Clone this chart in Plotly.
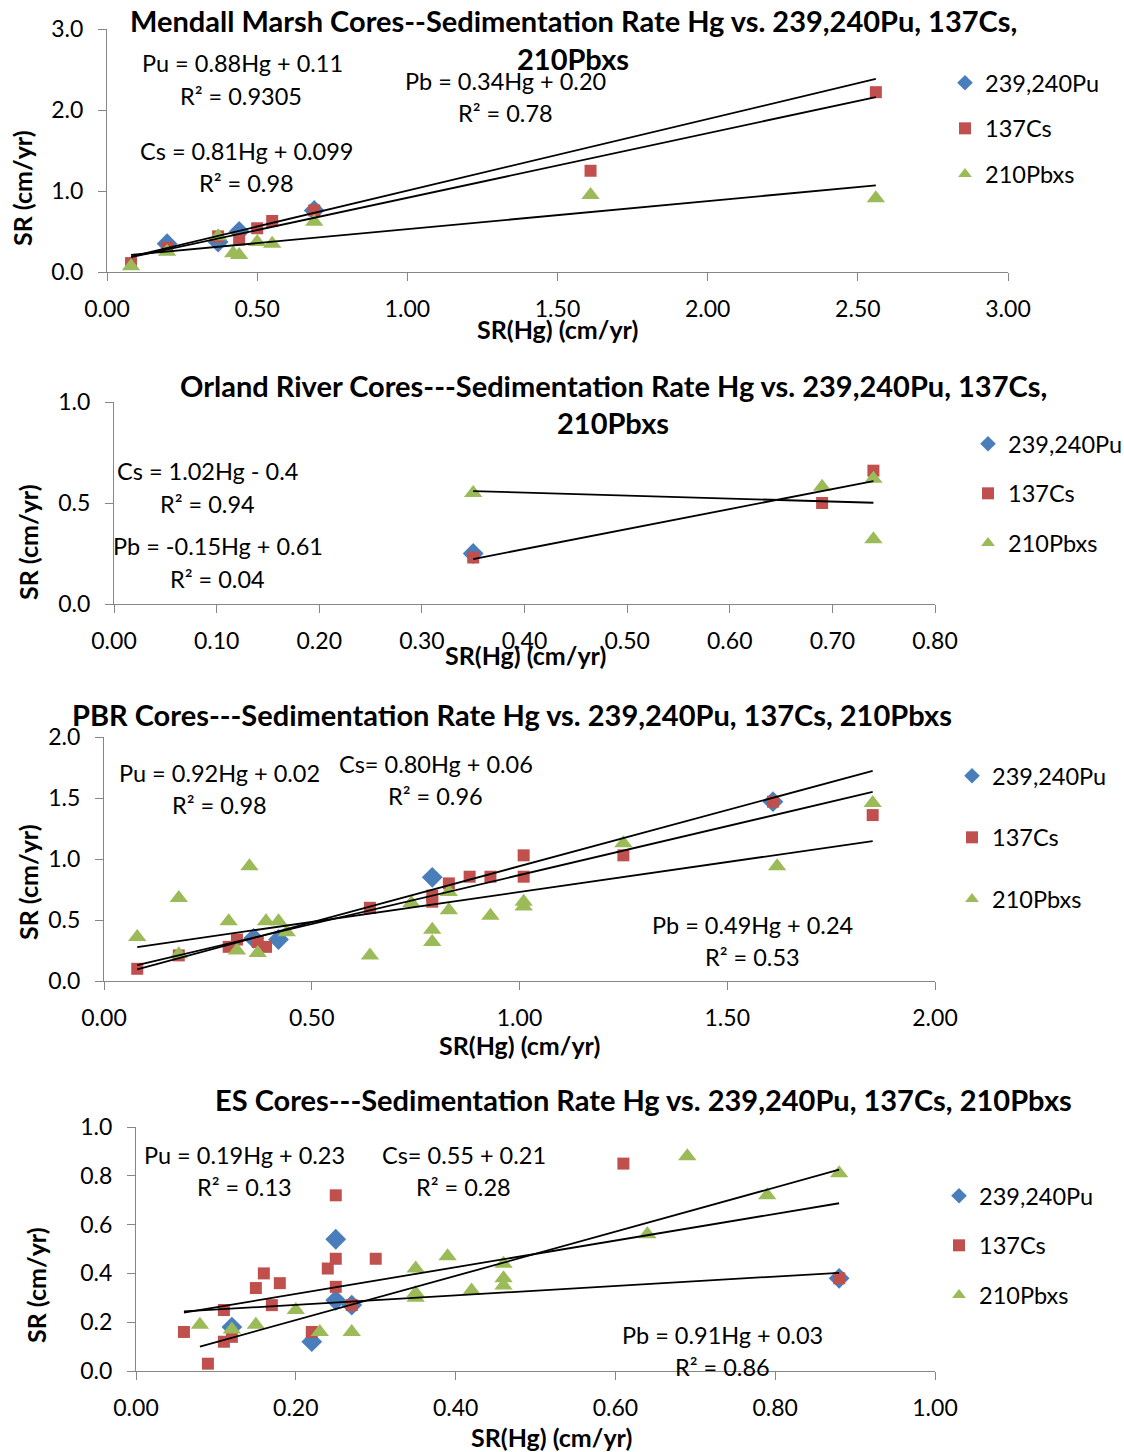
import numpy as np
import plotly.graph_objects as go

W, H = 1124, 1452

# ---------------- data: sedimentation rates (cm/yr) ----------------
SERIES = ["239,240Pu", "137Cs", "210Pbxs"]

# Mendall Marsh cores
mm_pu_hg = [0.20, 0.37, 0.44, 0.69]
mm_pu_sr = [0.35, 0.37, 0.50, 0.76]
mm_cs_hg = [0.08, 0.20, 0.37, 0.44, 0.50, 0.55, 0.69, 1.61, 2.56]
mm_cs_sr = [0.11, 0.30, 0.44, 0.40, 0.54, 0.63, 0.76, 1.25, 2.22]
mm_pb_hg = [0.08, 0.20, 0.37, 0.42, 0.44, 0.50, 0.55, 0.69, 1.61, 2.56]
mm_pb_sr = [0.07, 0.25, 0.44, 0.23, 0.21, 0.37, 0.35, 0.62, 0.95, 0.91]

# Orland River cores
or_pu_hg = [0.35]
or_pu_sr = [0.25]
or_cs_hg = [0.35, 0.69, 0.74]
or_cs_sr = [0.23, 0.50, 0.66]
or_pb_hg = [0.35, 0.69, 0.74, 0.74]
or_pb_sr = [0.55, 0.58, 0.62, 0.32]

# PBR cores
pbr_pu_hg = [0.36, 0.42, 0.79, 1.61]
pbr_pu_sr = [0.35, 0.34, 0.85, 1.47]
pbr_cs_hg = [0.08, 0.18, 0.30, 0.32, 0.37, 0.39, 0.64, 0.79, 0.79, 0.83,
             0.88, 0.93, 1.01, 1.01, 1.25, 1.61, 1.85]
pbr_cs_sr = [0.10, 0.21, 0.28, 0.34, 0.32, 0.28, 0.60, 0.65, 0.70, 0.80,
             0.855, 0.855, 1.03, 0.855, 1.03, 1.47, 1.36]
pbr_pb_hg = [0.08, 0.18, 0.18, 0.30, 0.32, 0.35, 0.37, 0.39, 0.42, 0.44, 0.64,
             0.74, 0.79, 0.79, 0.83, 0.83, 0.93, 1.01, 1.01, 1.25, 1.62, 1.85]
pbr_pb_sr = [0.36, 0.68, 0.22, 0.49, 0.25, 0.94, 0.23, 0.49, 0.49, 0.40, 0.21,
             0.64, 0.42, 0.32, 0.73, 0.58, 0.535, 0.65, 0.61, 1.13, 0.94, 1.46]

# ES cores
es_pu_hg = [0.12, 0.22, 0.25, 0.25, 0.27, 0.88]
es_pu_sr = [0.18, 0.12, 0.54, 0.29, 0.27, 0.38]
es_cs_hg = [0.06, 0.09, 0.11, 0.11, 0.12, 0.15, 0.16, 0.17, 0.18, 0.22,
            0.24, 0.25, 0.25, 0.25, 0.27, 0.30, 0.61, 0.88]
es_cs_sr = [0.16, 0.03, 0.25, 0.12, 0.14, 0.34, 0.40, 0.27, 0.36, 0.16,
            0.42, 0.72, 0.46, 0.345, 0.27, 0.46, 0.85, 0.38]
es_pb_hg = [0.08, 0.12, 0.15, 0.20, 0.23, 0.27, 0.35, 0.35, 0.35, 0.39,
            0.42, 0.46, 0.46, 0.46, 0.64, 0.69, 0.79, 0.88]
es_pb_sr = [0.19, 0.17, 0.19, 0.25, 0.16, 0.16, 0.42, 0.32, 0.30, 0.47,
            0.33, 0.44, 0.38, 0.35, 0.56, 0.88, 0.72, 0.81]

# Trendline equation labels
mm_eq = ["Pu = 0.88Hg + 0.11", "R² = 0.9305", "Cs = 0.81Hg + 0.099", "R² = 0.98",
         "Pb = 0.34Hg + 0.20", "R² = 0.78"]
or_eq = ["Cs = 1.02Hg - 0.4", "R² = 0.94", "Pb = -0.15Hg + 0.61", "R² = 0.04"]
pbr_eq = ["Pu = 0.92Hg + 0.02", "R² = 0.98", "Cs= 0.80Hg + 0.06", "R² = 0.96",
          "Pb = 0.49Hg + 0.24", "R² = 0.53"]
es_eq = ["Pu = 0.19Hg + 0.23", "R² = 0.13", "Cs= 0.55 + 0.21", "R² = 0.28",
         "Pb = 0.91Hg + 0.03", "R² = 0.86"]

mm_title = ["Mendall Marsh Cores--Sedimentation Rate Hg vs. 239,240Pu, 137Cs,", "210Pbxs"]
or_title = ["Orland River Cores---Sedimentation Rate Hg vs. 239,240Pu, 137Cs,", "210Pbxs"]
pbr_title = ["PBR Cores---Sedimentation Rate Hg vs. 239,240Pu, 137Cs, 210Pbxs"]
es_title = ["ES Cores---Sedimentation Rate Hg vs. 239,240Pu, 137Cs, 210Pbxs"]

X_TITLE = "SR(Hg) (cm/yr)"
Y_TITLE = "SR (cm/yr)"

# ---------------- styling ----------------
FONT = "Lato"
COLORS = {"239,240Pu": "#4A7EBB", "137Cs": "#C0504D", "210Pbxs": "#9BBB59"}
SYMBOLS = {"239,240Pu": "diamond", "137Cs": "square", "210Pbxs": "triangle-up"}
SIZES = {"239,240Pu": 16, "137Cs": 12, "210Pbxs": 16}
AXIS_GREY = "#868686"
TICK_FS, EQ_FS, LEG_FS, AX_FS, TITLE_FS = 23, 23.5, 23.5, 25, 29

# Panel layout in page pixels: plot box (left, top, right, bottom) and text anchors
panels = [
    dict(series=[(mm_pu_hg, mm_pu_sr), (mm_cs_hg, mm_cs_sr), (mm_pb_hg, mm_pb_sr)],
         box=(107, 29, 1008, 272), xr=(0, 3), xd=0.5, yr=(0, 3), yd=1.0,
         title=mm_title, title_xy=(573, [20, 59]), xt_xy=(557, 329), yt_xy=(22, 188),
         leg=(966, 85, 46), eq=mm_eq,
         eq_xy=[(242, 63), (241, 96), (246, 151), (246, 183), (505, 81), (505, 113)]),
    dict(series=[(or_pu_hg, or_pu_sr), (or_cs_hg, or_cs_sr), (or_pb_hg, or_pb_sr)],
         box=(114, 402, 935, 604), xr=(0, 0.8), xd=0.1, yr=(0, 1), yd=0.5,
         title=or_title, title_xy=(613, [385, 423]), xt_xy=(525, 655), yt_xy=(28, 542),
         leg=(989, 446, 50), eq=or_eq,
         eq_xy=[(208, 471), (208, 504), (218, 546), (218, 579)]),
    dict(series=[(pbr_pu_hg, pbr_pu_sr), (pbr_cs_hg, pbr_cs_sr), (pbr_pb_hg, pbr_pb_sr)],
         box=(104, 737, 935, 981), xr=(0, 2), xd=0.5, yr=(0, 2), yd=0.5,
         title=pbr_title, title_xy=(512, [714]), xt_xy=(519, 1045), yt_xy=(28, 882),
         leg=(973, 778, 62), eq=pbr_eq,
         eq_xy=[(219, 773), (219, 805), (436, 764), (436, 796), (752, 925), (752, 957)]),
    dict(series=[(es_pu_hg, es_pu_sr), (es_cs_hg, es_cs_sr), (es_pb_hg, es_pb_sr)],
         box=(136, 1127, 935, 1371), xr=(0, 1), xd=0.2, yr=(0, 1), yd=0.2,
         title=es_title, title_xy=(643, [1099]), xt_xy=(551, 1437), yt_xy=(36, 1285),
         leg=(960, 1198, 50), eq=es_eq,
         eq_xy=[(244, 1155), (244, 1187), (464, 1155), (463, 1187), (722, 1335), (722, 1367)]),
]


def px(x):
    return x / W


def py(y):
    return 1 - y / H


fig = go.Figure()
annotations = []
layout = {}

for i, p in enumerate(panels):
    n = "" if i == 0 else str(i + 1)
    xa, ya = "x" + n, "y" + n
    leg = "legend" + n
    l, t, r, b = p["box"]

    # scatter series (Pu first, Cs, then Pb on top)
    for name, (hx, sy) in zip(SERIES, p["series"]):
        fig.add_trace(go.Scatter(
            x=hx, y=sy, mode="markers", name=name, xaxis=xa, yaxis=ya,
            legend=leg, legendgroup=f"{leg}-{name}",
            marker=dict(symbol=SYMBOLS[name], size=SIZES[name], color=COLORS[name],
                        line=dict(width=0)),
            cliponaxis=False,
        ))

    # linear least-squares trendlines; Pu and Cs share the Cs sample x-range
    cs_hg = p["series"][1][0]
    for k, (name, (hx, sy)) in enumerate(zip(SERIES, p["series"])):
        if len(hx) < 2:
            continue
        slope, icpt = np.polyfit(hx, sy, 1)
        span = cs_hg if k < 2 else hx
        xs = np.array([min(span), max(span)])
        fig.add_trace(go.Scatter(
            x=xs, y=slope * xs + icpt, mode="lines", xaxis=xa, yaxis=ya,
            line=dict(color="black", width=1.8), showlegend=False, hoverinfo="skip",
        ))

    axis_common = dict(showline=True, linecolor=AXIS_GREY, linewidth=1,
                       ticks="outside", tickcolor=AXIS_GREY, ticklen=8, tickwidth=1,
                       showgrid=False, zeroline=False, automargin=False,
                       tickfont=dict(family=FONT, size=TICK_FS, color="black"))
    layout["xaxis" + n] = dict(domain=[px(l), px(r)], range=list(p["xr"]),
                               dtick=p["xd"], tick0=0, tickformat=".2f",
                               anchor=ya, ticklabelstandoff=8, **axis_common)
    layout["yaxis" + n] = dict(domain=[py(b), py(t)], range=list(p["yr"]),
                               dtick=p["yd"], tick0=0, tickformat=".1f",
                               anchor=xa, ticklabelstandoff=10, **axis_common)

    lx, ly0, gap = p["leg"]
    layout[leg] = dict(x=px(lx - 21), y=py(ly0 - 24), xanchor="left", yanchor="top",
                       traceorder="grouped", tracegroupgap=max(gap - 34, 0),
                       font=dict(family=FONT, size=LEG_FS, color="black"),
                       bgcolor="rgba(0,0,0,0)", itemsizing="constant")

    # chart title
    cx, ys = p["title_xy"]
    for line, yy in zip(p["title"], ys):
        annotations.append(dict(text=line, x=px(cx), y=py(yy), xref="paper", yref="paper",
                                showarrow=False, xanchor="center", yanchor="middle",
                                font=dict(family=FONT, size=TITLE_FS, color="black",
                                          weight="bold")))
    # axis titles
    annotations.append(dict(text=X_TITLE, x=px(p["xt_xy"][0]), y=py(p["xt_xy"][1]),
                            xref="paper", yref="paper", showarrow=False,
                            xanchor="center", yanchor="middle",
                            font=dict(family=FONT, size=AX_FS, color="black", weight="bold")))
    annotations.append(dict(text=Y_TITLE, x=px(p["yt_xy"][0]), y=py(p["yt_xy"][1]),
                            xref="paper", yref="paper", showarrow=False, textangle=-90,
                            xanchor="center", yanchor="middle",
                            font=dict(family=FONT, size=AX_FS, color="black", weight="bold")))
    # trendline equations
    for text, (ex, ey) in zip(p["eq"], p["eq_xy"]):
        annotations.append(dict(text=text, x=px(ex), y=py(ey), xref="paper", yref="paper",
                                showarrow=False, xanchor="center", yanchor="middle",
                                font=dict(family=FONT, size=EQ_FS, color="black")))

fig.update_layout(
    template="none",
    width=W, height=H, margin=dict(l=0, r=0, t=0, b=0, autoexpand=False),
    paper_bgcolor="white", plot_bgcolor="white",
    annotations=annotations, **layout,
)

fig.write_html("out.html")
